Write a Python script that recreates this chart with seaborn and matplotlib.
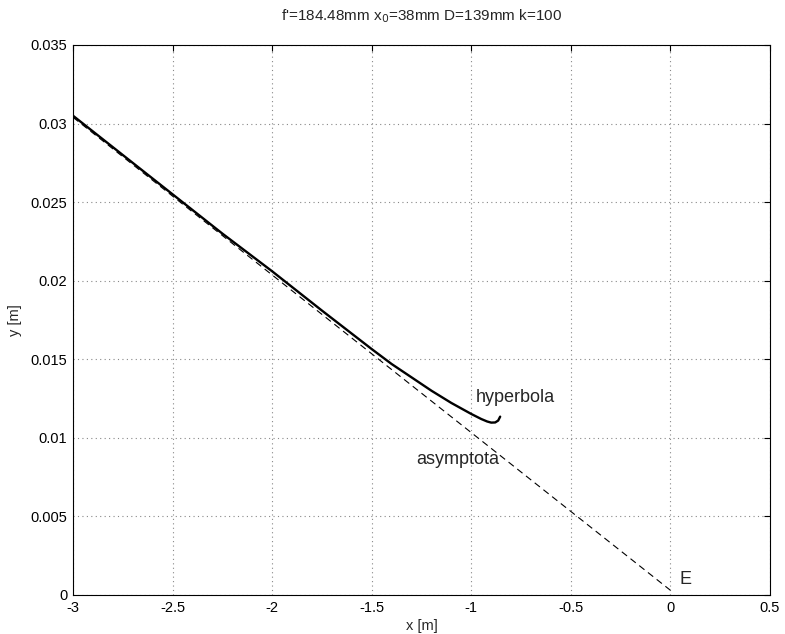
import matplotlib
matplotlib.use("Agg")
import matplotlib.pyplot as plt
import seaborn as sns
import pandas as pd

hyp_x = [-3.0, -2.75, -2.5, -2.25, -2.0, -1.75, -1.5, -1.4, -1.3, -1.2, -1.1, -1.0, -0.95, -0.92, -0.9, -0.88, -0.865, -0.855]
hyp_y = [0.0305, 0.0280, 0.0255, 0.0230, 0.0206, 0.0181, 0.01565, 0.0147, 0.01385, 0.0130, 0.01222, 0.01152, 0.0112, 0.01104, 0.01097, 0.01098, 0.01110, 0.01135]
asym_x = [-3.0, 0.0]
asym_y = [0.0304, 0.0003]

sns.set_style("white")
plt.rcParams['font.family'] = ['Liberation Sans', 'DejaVu Sans']

fig = plt.figure(figsize=(7.85, 6.34), dpi=100)
ax = fig.add_axes([73/785, 1 - 595/634, (770 - 73)/785, (595 - 45)/634])

sns.lineplot(data=pd.DataFrame({"x": hyp_x, "y": hyp_y}), x="x", y="y", sort=False,
             ax=ax, color="black", linewidth=1.7)
sns.lineplot(data=pd.DataFrame({"x": asym_x, "y": asym_y}), x="x", y="y", sort=False,
             ax=ax, color="black", linewidth=0.8, linestyle=(0, (6, 4)))

ax.set_xlim(-3, 0.5)
ax.set_ylim(0, 0.035)
ax.set_xticks([-3, -2.5, -2, -1.5, -1, -0.5, 0, 0.5])
ax.set_xticklabels(["-3", "-2.5", "-2", "-1.5", "-1", "-0.5", "0", "0.5"])
ax.set_yticks([0, 0.005, 0.01, 0.015, 0.02, 0.025, 0.03, 0.035])
ax.set_yticklabels(["0", "0.005", "0.01", "0.015", "0.02", "0.025", "0.03", "0.035"])
ax.grid(True, color="#888888", linestyle=(0, (1, 3)), linewidth=0.8)
ax.tick_params(direction="in", length=4, labelsize=10.5, colors="black", top=True, right=True, pad=4)
for s in ax.spines.values():
    s.set_color("black")
    s.set_linewidth(0.8)

ax.set_xlabel("x [m]", fontsize=10.5, labelpad=3)
ax.set_ylabel("y [m]", fontsize=10.5, labelpad=6)
ax.set_title("f'=184.48mm x$_0$=38mm D=139mm k=100", fontsize=11, pad=18)

ax.text(-0.98, 0.0126, "hyperbola", fontsize=13, ha="left", va="center")
ax.text(-1.275, 0.0086, "asymptota", fontsize=13, ha="left", va="center")
ax.text(0.046, 0.0010, "E", fontsize=13, ha="left", va="center")

fig.savefig("out.png", dpi=100)
